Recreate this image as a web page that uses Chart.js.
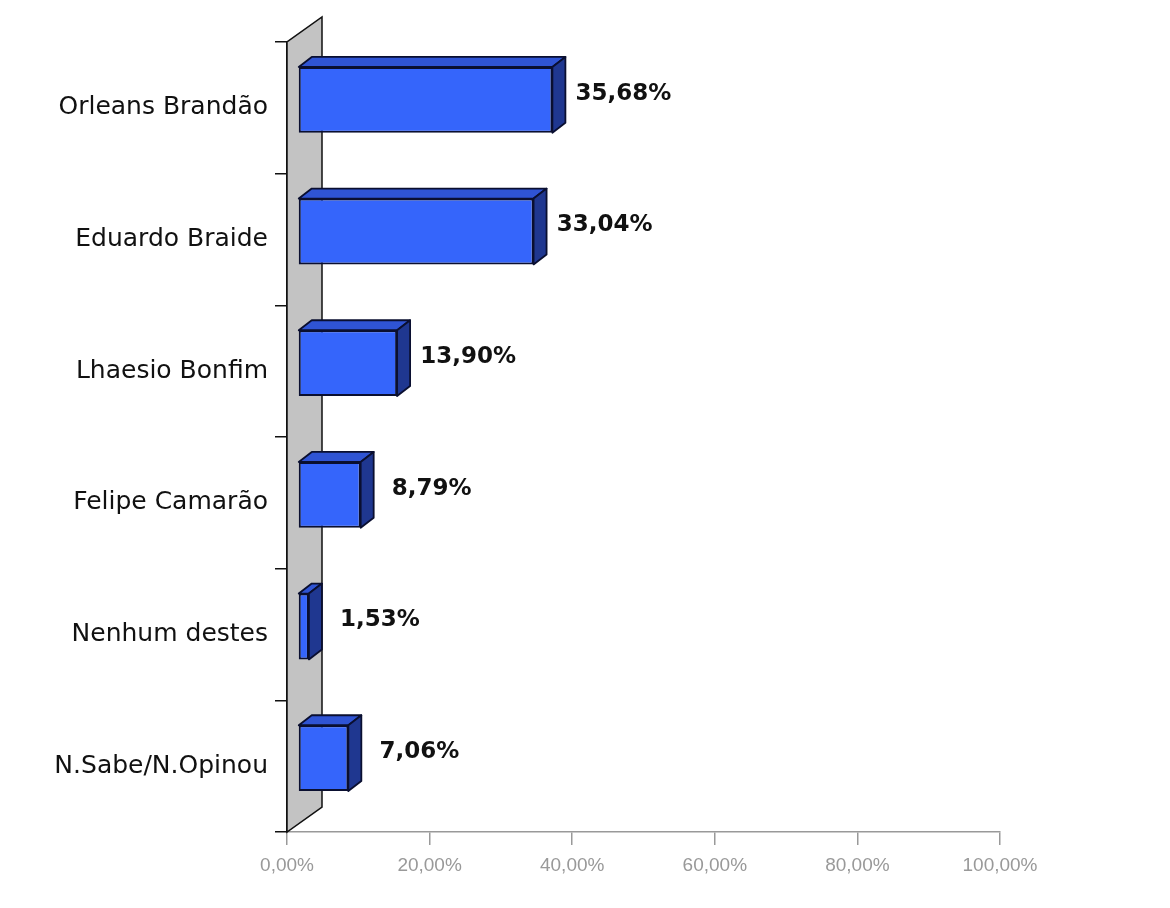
<!DOCTYPE html>
<html>
<head>
<meta charset="utf-8">
<script src="https://cdn.jsdelivr.net/npm/chart.js@4"></script>
<style>
  html, body { margin: 0; padding: 0; background: #fff; }
  #wrap { width: 1170px; height: 908px; }
</style>
</head>
<body>
<div id="wrap"><canvas id="chartVotos" width="1170" height="908"></canvas></div>
<script>
// dados da pesquisa
const categories = ['Orleans Brandão', 'Eduardo Braide', 'Lhaesio Bonfim', 'Felipe Camarão', 'Nenhum destes', 'N.Sabe/N.Opinou'];
const values = [35.68, 33.04, 13.90, 8.79, 1.53, 7.06];
const xTicks = [0, 20, 40, 60, 80, 100];

const fmt = v => v.toFixed(2).replace('.', ',') + '%';

// deslocamento "3D" das barras e da parede
const BAR_SHIFT = { x: 11, y: -8 };
const BAR_DEPTH = { x: 13, y: -10 };
const WALL_DEPTH = { x: 35, y: -25 };

const efeito3D = {
    id: 'efeito3D',
    beforeDatasetsDraw(chart) {
        const ctx = chart.ctx;
        const area = chart.chartArea;
        const x0 = chart.scales.x.getPixelForValue(0);
        ctx.save();
        ctx.beginPath();
        ctx.moveTo(x0, area.bottom);
        ctx.lineTo(x0, area.top);
        ctx.lineTo(x0 + WALL_DEPTH.x, area.top + WALL_DEPTH.y);
        ctx.lineTo(x0 + WALL_DEPTH.x, area.bottom + WALL_DEPTH.y);
        ctx.closePath();
        ctx.fillStyle = '#c3c3c3';
        ctx.fill();
        ctx.strokeStyle = '#111';
        ctx.lineWidth = 1.5;
        ctx.stroke();
        ctx.restore();
    },
    beforeDatasetDraw(chart) {
        chart.ctx.save();
        chart.ctx.translate(BAR_SHIFT.x, BAR_SHIFT.y);
    },
    afterDatasetDraw(chart, args) {
        const ctx = chart.ctx;
        args.meta.data.forEach(bar => {
            const p = bar.getProps(['x', 'y', 'base', 'height'], true);
            const top = p.y - p.height / 2;
            const bot = p.y + p.height / 2;
            const l = p.base, r = p.x;
            ctx.lineWidth = 1.8;
            ctx.lineJoin = 'round';
            ctx.strokeStyle = '#0a0f30';
            // face de cima
            ctx.beginPath();
            ctx.moveTo(l, top);
            ctx.lineTo(l + BAR_DEPTH.x, top + BAR_DEPTH.y);
            ctx.lineTo(r + BAR_DEPTH.x, top + BAR_DEPTH.y);
            ctx.lineTo(r, top);
            ctx.closePath();
            ctx.fillStyle = '#2f54d4';
            ctx.fill();
            ctx.stroke();
            // face lateral
            ctx.beginPath();
            ctx.moveTo(r, top);
            ctx.lineTo(r + BAR_DEPTH.x, top + BAR_DEPTH.y);
            ctx.lineTo(r + BAR_DEPTH.x, bot + BAR_DEPTH.y);
            ctx.lineTo(r, bot);
            ctx.closePath();
            ctx.fillStyle = '#1f3790';
            ctx.fill();
            ctx.stroke();
        });
        ctx.restore();
    },
    afterDatasetsDraw(chart) {
        const ctx = chart.ctx;
        const meta = chart.getDatasetMeta(0);
        ctx.save();
        ctx.font = 'bold 23px "DejaVu Sans"';
        ctx.fillStyle = '#111';
        ctx.textAlign = 'center';
        ctx.textBaseline = 'middle';
        meta.data.forEach((bar, i) => {
            const p = bar.getProps(['x', 'y'], true);
            ctx.fillText(fmt(values[i]), p.x + BAR_SHIFT.x + 71, p.y - 14);
        });
        ctx.restore();
    }
};

new Chart(document.getElementById('chartVotos'), {
    type: 'bar',
    data: {
        labels: categories,
        datasets: [{
            data: values,
            backgroundColor: '#3565fb',
            borderColor: '#0a0f30',
            borderWidth: 2,
            borderSkipped: false,
            categoryPercentage: 1,
            barPercentage: 0.5
        }]
    },
    options: {
        indexAxis: 'y',
        responsive: false,
        animation: false,
        layout: { padding: { top: 42, right: 170, left: 0, bottom: 0 } },
        plugins: { legend: { display: false }, tooltip: { enabled: false } },
        scales: {
            x: {
                min: 0,
                max: 100,
                afterBuildTicks: scale => { scale.ticks = xTicks.map(v => ({ value: v })); },
                afterFit: scale => { scale.height = 76; },
                grid: { drawOnChartArea: false, tickLength: 13, color: '#999', lineWidth: 1.5 },
                border: { color: '#999', width: 1.5 },
                ticks: {
                    callback: v => fmt(v),
                    color: '#999',
                    padding: 9,
                    maxRotation: 0,
                    font: { family: '"Liberation Sans", Arial', size: 19 }
                }
            },
            y: {
                afterFit: scale => { scale.width = 287; },
                grid: { drawOnChartArea: false, tickLength: 12, color: '#111', lineWidth: 1.5 },
                border: { color: '#111', width: 1.5 },
                ticks: {
                    color: '#111',
                    padding: 7,
                    font: { family: '"DejaVu Sans"', size: 25 }
                }
            }
        }
    },
    plugins: [efeito3D]
});
</script>
</body>
</html>
